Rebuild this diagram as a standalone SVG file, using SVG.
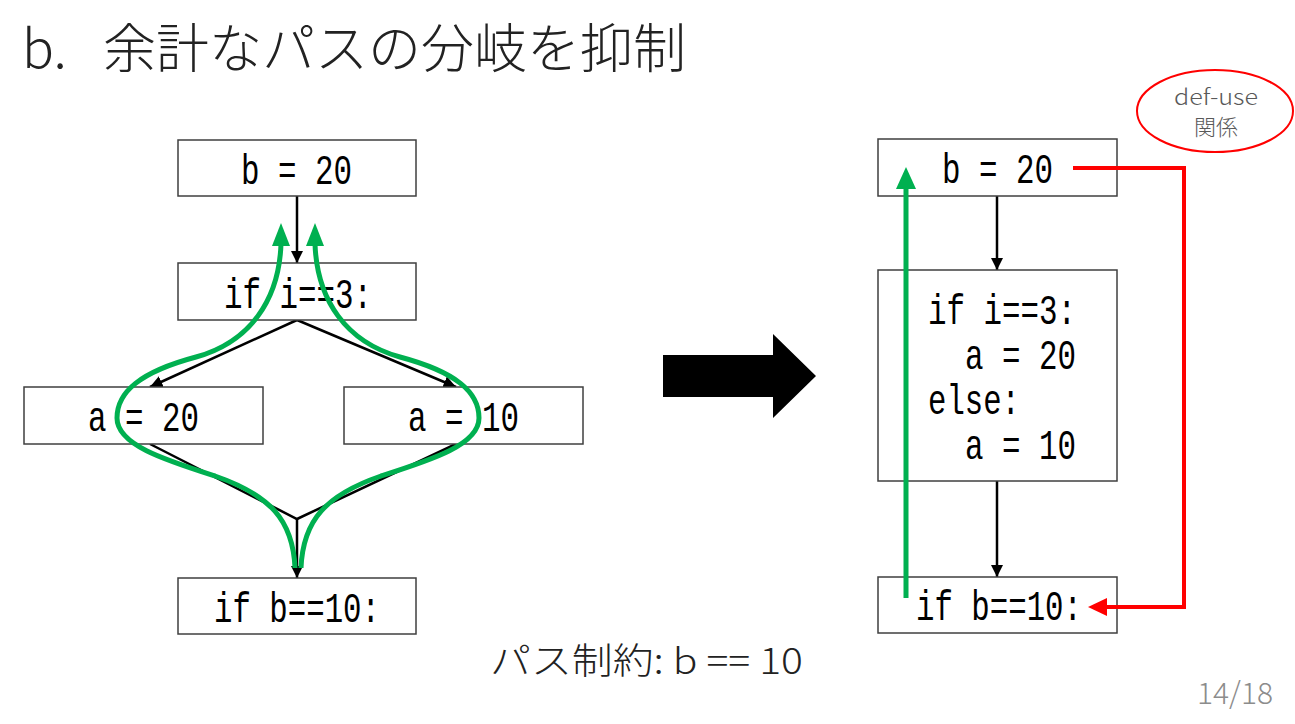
<svg xmlns="http://www.w3.org/2000/svg" width="1295" height="724" viewBox="0 0 1295 724">
<defs>
<style>
.box{fill:#fff;stroke:#3f3f3f;stroke-width:1.5}
.code{font-family:"Liberation Mono","DejaVu Sans Mono",monospace;font-size:42px;fill:#000}
.edge{fill:none;stroke:#000;stroke-width:2.5}
.green{fill:none;stroke:#00B050;stroke-width:5}
.jp{font-family:"Noto Sans CJK JP","Noto Sans",sans-serif}
</style>
<marker id="ah" viewBox="0 0 10 10" refX="10" refY="5" markerWidth="5" markerHeight="5" markerUnits="strokeWidth" orient="auto">
<path d="M0,0 L10,5 L0,10 z" fill="#000"/>
</marker>
</defs>
<rect width="1295" height="724" fill="#fff"/>
<text class="jp" x="22" y="68" font-size="53" font-weight="300" fill="#222">b.<tspan x="103">余計なパスの分岐を抑制</tspan></text>

<g id="connectors">
<line class="edge" x1="297" y1="196" x2="297" y2="263" marker-end="url(#ah)"/>
<line class="edge" x1="297" y1="320" x2="150" y2="387" marker-end="url(#ah)"/>
<line class="edge" x1="297" y1="320" x2="456" y2="387" marker-end="url(#ah)"/>
<polyline class="edge" points="150,444 297,519 456,444"/>
<line class="edge" x1="297" y1="519" x2="297" y2="578" marker-end="url(#ah)"/>
<line class="edge" x1="997" y1="196" x2="997" y2="270" marker-end="url(#ah)"/>
<line class="edge" x1="997" y1="481" x2="997" y2="577" marker-end="url(#ah)"/>
</g>

<g id="left-b20"><rect class="box" x="178" y="140" width="238" height="56"/><text class="code" x="241" y="184" textLength="111" lengthAdjust="spacingAndGlyphs">b = 20</text></g>
<g id="left-if-i3"><rect class="box" x="178" y="263" width="238" height="57"/><text class="code" x="224" y="308" textLength="148" lengthAdjust="spacingAndGlyphs">if i==3:</text></g>
<g id="left-a20"><rect class="box" x="24" y="387" width="239" height="57"/><text class="code" x="88" y="431" textLength="111" lengthAdjust="spacingAndGlyphs">a = 20</text></g>
<g id="left-a10"><rect class="box" x="344" y="387" width="239" height="57"/><text class="code" x="408" y="431" textLength="111" lengthAdjust="spacingAndGlyphs">a = 10</text></g>
<g id="left-if-b10"><rect class="box" x="178" y="578" width="238" height="56"/><text class="code" x="214" y="622" textLength="166" lengthAdjust="spacingAndGlyphs">if b==10:</text></g>

<g id="green-paths">
<path class="green" d="M295,568 C293,520 270,495 215,476 C165,460 117,445 117,418 C117,392 140,372 196,357 C250,342 279,300 281,244"/>
<polygon points="281,223 272,246 290,246" fill="#00B050"/>
<path class="green" d="M301,568 C303,520 326,495 381,476 C431,460 479,445 479,418 C479,392 456,372 400,357 C346,342 317,300 315,244"/>
<polygon points="315,223 306,246 324,246" fill="#00B050"/>
</g>

<g id="big-arrow"><polygon points="663,355 773,355 773,334 816,376 773,418 773,397 663,397" fill="#000"/></g>

<g id="right-b20"><rect class="box" x="878" y="139" width="239" height="57"/><text class="code" x="942" y="183" textLength="111" lengthAdjust="spacingAndGlyphs">b = 20</text></g>
<g id="right-if-block"><rect class="box" x="878" y="270" width="239" height="211"/>
<text class="code" x="928" y="324" textLength="148" lengthAdjust="spacingAndGlyphs">if i==3:</text>
<text class="code" x="965" y="369" textLength="111" lengthAdjust="spacingAndGlyphs">a = 20</text>
<text class="code" x="928" y="414" textLength="92" lengthAdjust="spacingAndGlyphs">else:</text>
<text class="code" x="965" y="459" textLength="111" lengthAdjust="spacingAndGlyphs">a = 10</text></g>
<g id="right-if-b10"><rect class="box" x="878" y="577" width="239" height="56"/><text class="code" x="916" y="620" textLength="166" lengthAdjust="spacingAndGlyphs">if b==10:</text></g>

<g id="green-arrow-right">
<line x1="906" y1="598" x2="906" y2="186" stroke="#00B050" stroke-width="5"/>
<polygon points="906,167 896,189 916,189" fill="#00B050"/>
</g>
<g id="def-use-edge">
<polyline points="1073,168 1184,168 1184,607 1104,607" fill="none" stroke="#FF0000" stroke-width="4"/>
<polygon points="1088,607 1107,598 1107,616" fill="#FF0000"/>
</g>
<g id="def-use-label">
<ellipse cx="1215" cy="111" rx="78" ry="41" fill="#fff" stroke="#FF0000" stroke-width="2"/>
<text class="jp" x="1216" y="105" font-size="22" font-weight="300" fill="#595959" text-anchor="middle" textLength="84" lengthAdjust="spacingAndGlyphs">def-use</text>
<text class="jp" x="1216" y="135" font-size="22" font-weight="300" fill="#595959" text-anchor="middle">関係</text>
</g>

<text class="jp" x="490" y="674" font-size="36" font-weight="300" fill="#222" textLength="313" lengthAdjust="spacingAndGlyphs">パス制約: b == 10</text>
<text class="jp" x="1273" y="704" font-size="30" font-weight="300" fill="#8c8c8c" text-anchor="end">14/18</text>
</svg>
